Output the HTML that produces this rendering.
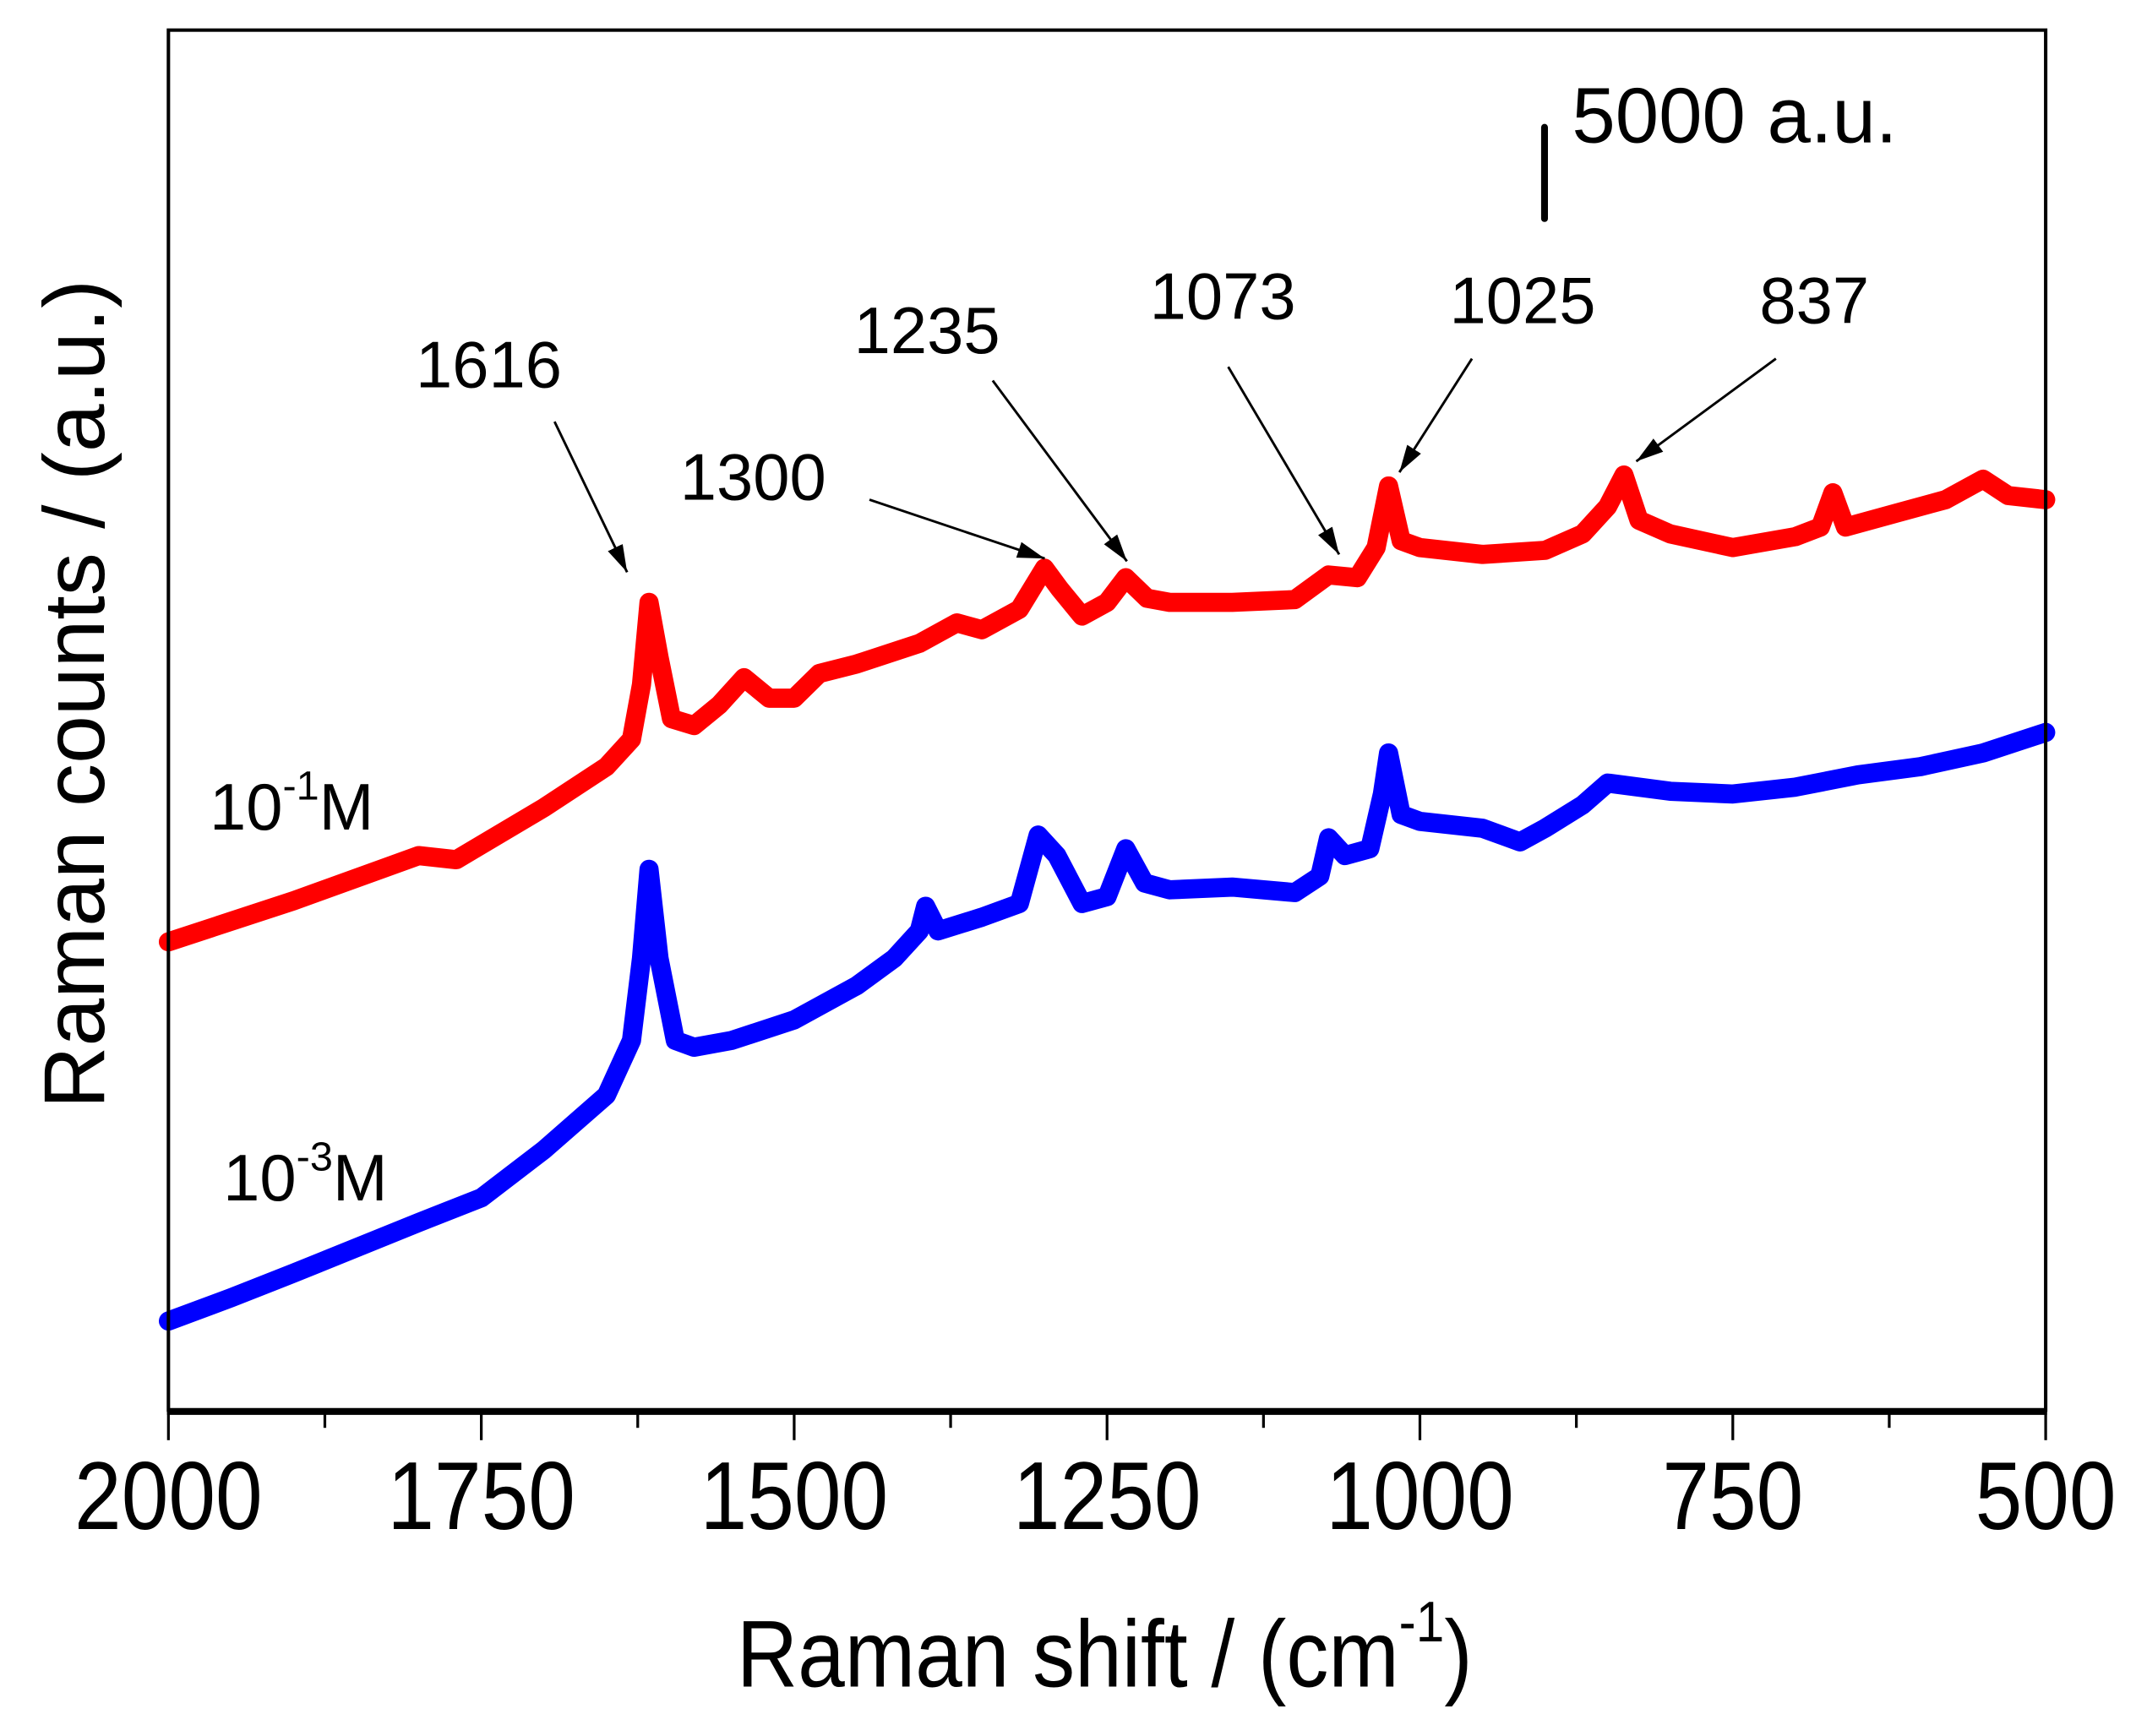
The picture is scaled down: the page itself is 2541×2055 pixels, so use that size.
<!DOCTYPE html>
<html><head><meta charset="utf-8"><style>
html,body{margin:0;padding:0;background:#fff;}
svg{display:block;}
text{font-family:"Liberation Sans",Arial,sans-serif;fill:#000;}
</style></head>
<body>
<svg id="chart" width="2541" height="2055" viewBox="0 0 1568 1268.1" xmlns="http://www.w3.org/2000/svg">
<defs>
<marker id="ah" markerWidth="20" markerHeight="12" refX="20" refY="6" orient="auto" markerUnits="userSpaceOnUse" viewBox="0 0 20 12">
<path d="M0,0 L20,6 L0,12 Z" fill="#000"/>
</marker>
</defs>
<g id="plot"></g>
<g id="axes"></g>
<g id="annot"></g>
</svg>
<script>
// ---- data ----
const redX = [2000,1900,1800,1770,1700,1650,1630,1622,1616,1608,1598,1580,1560,1540,1520,1500,1480,1450,1400,1370,1350,1320,1300,1288,1270,1250,1235,1218,1200,1150,1100,1073,1050,1035,1025,1015,1000,950,900,870,850,837,825,800,750,700,680,670,660,620,580,550,530,500];
const redY = [25650,27900,30375,30150,33000,35250,36750,39750,44250,41250,37875,37500,38625,40125,39000,39000,40350,40875,42000,43125,42750,43875,46125,45000,43500,44250,45600,44475,44250,44250,44400,45750,45600,47250,50625,47625,47250,46875,47100,48000,49500,51225,48750,48000,47250,47850,48375,50250,48375,49125,49875,51000,50100,49875];
const blueX = [2000,1950,1900,1800,1750,1700,1650,1630,1622,1616,1608,1595,1580,1550,1500,1450,1420,1400,1395,1385,1350,1320,1305,1290,1270,1250,1235,1220,1200,1150,1100,1080,1073,1060,1040,1030,1025,1015,1000,950,920,900,870,850,800,750,700,650,600,550,500];
const blueY = [4875,6150,7500,10275,11625,14250,17250,20250,24750,29625,24750,20250,19875,20250,21375,23250,24750,26250,27600,26250,27000,27750,31500,30375,27750,28125,30750,28875,28500,28650,28350,29250,31350,30375,30750,33750,36000,32625,32250,31875,31125,31875,33150,34350,33900,33750,34125,34800,35250,36000,37125];
const xTickLabels = ["2000","1750","1500","1250","1000","750","500"];
const xTickValues = [2000,1750,1500,1250,1000,750,500];
const minorTicks = [1875,1625,1375,1125,875,625];
const peakLabels = ["1616","1300","1235","1073","1025","837"];
const scaleBarValue = 5000;

// ---- layout (viewBox units) ----
const L=123,R=1494,T=22,B=1030;
const xMin=2000,xMax=500,yMin=0,yMax=75600;
const sx=v=>L+(xMin-v)/(xMin-xMax)*(R-L);
const sy=v=>B-(v-yMin)/(yMax-yMin)*(B-T);
const NS="http://www.w3.org/2000/svg";
function mk(tag,attrs,parent,txt){const e=document.createElementNS(NS,tag);for(const k in attrs)e.setAttribute(k,attrs[k]);if(txt!==undefined)e.textContent=txt;parent.appendChild(e);return e;}
const plot=document.getElementById('plot'),axes=document.getElementById('axes'),ann=document.getElementById('annot');

function series(xs,ys,color,name){
  let d=xs.map((x,i)=>(i?'L':'M')+sx(x).toFixed(1)+','+sy(ys[i]).toFixed(1)).join(' ');
  const p=mk('path',{d:d,fill:'none',stroke:color,'stroke-width':14,'stroke-linejoin':'round','stroke-linecap':'round'},plot);
  
  
}
series(redX,redY,'#ff0000','series-1e-1M');
series(blueX,blueY,'#0000ff','series-1e-3M');

// frame
const fr=mk('rect',{x:L,y:T,width:R-L,height:B-T,fill:'none',stroke:'#000','stroke-width':2.5},axes);


const xa=mk('line',{x1:L-1,x2:R+1,y1:B+1,y2:B+1,stroke:'#000','stroke-width':5},axes);


xTickValues.forEach((v,i)=>{
  const t=mk('line',{x1:sx(v),x2:sx(v),y1:B,y2:B+22,stroke:'#000','stroke-width':2},axes);
  
  
  const lb=mk('text',{x:0,y:0,'text-anchor':'middle','font-size':63,transform:'translate('+sx(v)+',1117) scale(0.98,1.12)'},axes,xTickLabels[i]);
  
  
});
minorTicks.forEach(v=>{
  const t=mk('line',{x1:sx(v),x2:sx(v),y1:B,y2:B+13,stroke:'#000','stroke-width':2},axes);
  
  
});
// axis titles
const xt=mk('text',{x:0,y:0,'font-size':63,transform:'translate(538,1232) scale(0.98,1.1)'},axes);


xt.innerHTML='Raman shift / (cm<tspan dy="-30" font-size="38">-1</tspan><tspan dy="30">)</tspan>';
const yt=mk('text',{x:0,y:0,'font-size':63,'text-anchor':'middle',transform:'translate(76,507) rotate(-90)'},axes,'Raman counts / (a.u.)');



// scale bar
const sbLen=(B-T)*scaleBarValue/(yMax-yMin);
const sb=mk('line',{x1:1128,x2:1128,y1:93,y2:93+sbLen,stroke:'#000','stroke-width':5,'stroke-linecap':'round'},ann);


const sbt=mk('text',{x:1148,y:104,'font-size':57},ann,scaleBarValue+' a.u.');



// peak annotations: label position and arrow
const annPos=[[357,283,405,308,458,418],[550,365,635,365,763,408],[677,258,725,278,823,410],[893,233,897,268,978,405],[1112,236,1075,262,1022,345],[1325,236,1297,262,1195,337]];
peakLabels.forEach((s,i)=>{
  const a=annPos[i];
  const t=mk('text',{x:a[0],y:a[1],'text-anchor':'middle','font-size':48},ann,s);
  
  
  const l=mk('line',{x1:a[2],y1:a[3],x2:a[4],y2:a[5],stroke:'#000','stroke-width':1.8,'marker-end':'url(#ah)'},ann);
  
  
});
// series labels
const s1=mk('text',{x:153,y:606,'font-size':48},ann);
s1.innerHTML='10<tspan dy="-22" font-size="30">-1</tspan><tspan dy="22">M</tspan>';


const s2=mk('text',{x:163,y:877,'font-size':48},ann);
s2.innerHTML='10<tspan dy="-22" font-size="30">-3</tspan><tspan dy="22">M</tspan>';


</script>
</body></html>
